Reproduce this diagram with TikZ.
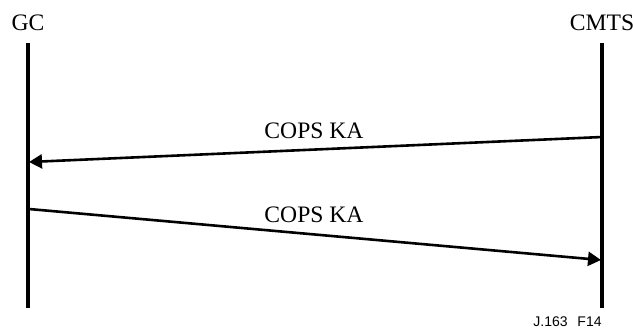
\documentclass[tikz,border=0pt]{standalone}
\usepackage{fontspec}
\setmainfont{Liberation Serif}
\setsansfont{Liberation Sans}
\usetikzlibrary{arrows.meta}
\begin{document}
\begin{tikzpicture}[x=0.5pt,y=-0.5pt,line join=round,>={Triangle[length=6.5pt,width=7pt]},
		font=\fontsize{11.8}{13}\selectfont]
	\useasboundingbox (0,0) rectangle (633,329);
	\tikzset{life/.style={line width=2pt},msg/.style={->,line width=1.3pt},
		lbl/.style={anchor=base,inner sep=0pt}}
	% the two stations
	\coordinate (GCt) at (28,43);
	\coordinate (GCb) at (28,308);
	\coordinate (CMt) at (602,43);
	\coordinate (CMb) at (602,308);
	\node [lbl] (gc) at (28,30.5) {GC};
	\node [lbl] (cmts) at (602,30.5) {CMTS};
	\draw [life] (GCt)--(GCb);
	\draw [life] (CMt)--(CMb);
	% keep-alive messages
	\coordinate (A1) at (602,137);
	\coordinate (B1) at (29,162);
	\coordinate (A2) at (29,209);
	\coordinate (B2) at (601,260);
	\draw [msg] (A1)--(B1);
	\draw [msg] (A2)--(B2);
	\node [lbl] (ka1) at (314,138) {COPS KA};
	\node [lbl] (ka2) at (314,222) {COPS KA};
	\node [lbl,anchor=base east,font=\sffamily\fontsize{7}{8}\selectfont] (fig) at (602,326) {J.163\hspace{0.7em}F14};
\end{tikzpicture}
\end{document}
